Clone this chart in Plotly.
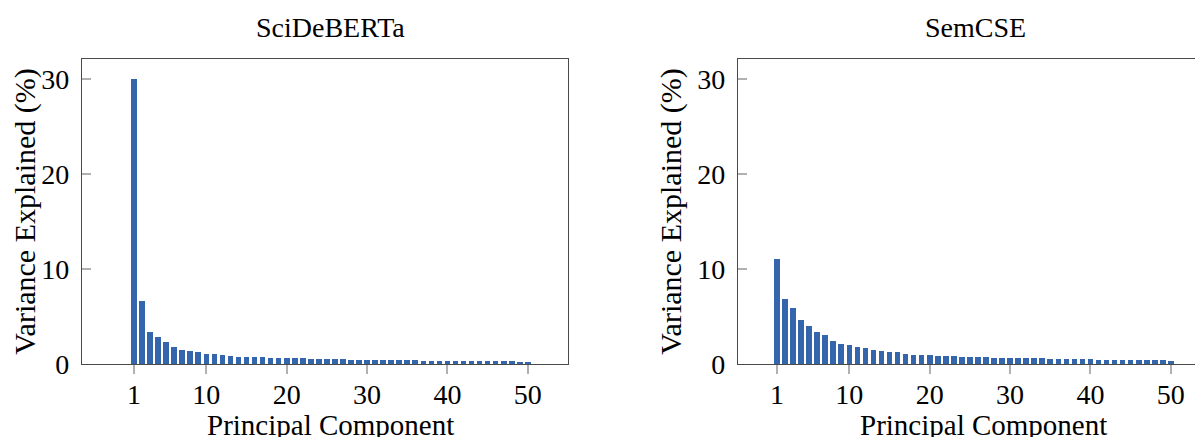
import plotly.graph_objects as go

components = list(range(1, 51))
scideberta = [30.0, 6.6, 3.4, 2.8, 2.35, 1.75, 1.5, 1.38, 1.3, 1.1,
              1.02, 0.95, 0.85, 0.78, 0.77, 0.75, 0.7, 0.68, 0.66, 0.63,
              0.6, 0.58, 0.56, 0.54, 0.52, 0.5, 0.48, 0.47, 0.45, 0.44,
              0.42, 0.41, 0.4, 0.39, 0.38, 0.37, 0.36, 0.35, 0.34, 0.33,
              0.32, 0.31, 0.3, 0.3, 0.29, 0.28, 0.27, 0.27, 0.26, 0.25]
semcse = [11.0, 6.85, 5.9, 4.67, 4.0, 3.4, 3.1, 2.45, 2.15, 2.0,
          1.82, 1.72, 1.5, 1.4, 1.3, 1.27, 1.07, 0.98, 0.95, 0.92,
          0.88, 0.84, 0.8, 0.77, 0.77, 0.74, 0.7, 0.67, 0.66, 0.63,
          0.62, 0.6, 0.6, 0.58, 0.56, 0.55, 0.53, 0.52, 0.5, 0.49,
          0.47, 0.46, 0.44, 0.43, 0.42, 0.41, 0.39, 0.38, 0.37, 0.36]
x_ticks = [1, 10, 20, 30, 40, 50]
y_ticks = [0, 10, 20, 30]
titles = ["SciDeBERTa", "SemCSE"]
x_title = "Principal Component"
y_title = "Variance Explained (%)"

FONT = "Liberation Serif"
BAR = "#3465ad"
LINE = "#4a4a4a"
TICK = "#b0b0b0"

fig = go.Figure()
fig.add_trace(go.Bar(x=components, y=scideberta, width=0.7,
                     marker=dict(color=BAR, line=dict(width=0)),
                     xaxis="x", yaxis="y", showlegend=False))
fig.add_trace(go.Bar(x=components, y=semcse, width=0.7,
                     marker=dict(color=BAR, line=dict(width=0)),
                     xaxis="x2", yaxis="y2", showlegend=False))

# page has an 8px body margin: figure sits at (8, 8)
OFF = 8
W, H = 1203 - OFF, 437 - OFF
ml, mt = 82 - OFF, 59 - OFF
mb = H - (364 - OFF)
mr = 0
pw = W - ml - mr
ph = H - mt - mb

def xax(domain, rng, anchor):
    return dict(domain=domain, range=rng, anchor=anchor,
                tickvals=x_ticks, ticktext=[str(v) for v in x_ticks],
                ticks="outside", ticklen=9, tickcolor=TICK, tickwidth=1.5,
                ticklabelstandoff=-4,
                showline=True, linecolor=LINE, linewidth=1.3, mirror=True,
                showgrid=False, zeroline=False,
                tickfont=dict(family=FONT, size=28, color="black"))

def yax(anchor, mirror):
    return dict(domain=[0, 1], range=[0, 32.1], anchor=anchor,
                tickvals=y_ticks, ticktext=[str(v) for v in y_ticks],
                ticks="inside", ticklen=9, tickcolor=TICK, tickwidth=1.5,
                ticklabelstandoff=6,
                showline=True, linecolor=LINE, linewidth=1.3, mirror=mirror,
                showgrid=False, zeroline=False,
                tickfont=dict(family=FONT, size=28, color="black"),
                title=dict(text=y_title, standoff=6,
                           font=dict(family=FONT, size=30, color="black")))

d1 = [0, (568 - 82) / pw]
d2 = [(738 - 82) / pw, 1]

def px_x(p):
    return (p - 82) / pw

def px_y(p):
    return (364 - p) / ph

def ann(text, x, y, size):
    return dict(text=text, x=px_x(x), y=px_y(y), xref="paper", yref="paper",
                xanchor="center", yanchor="middle", showarrow=False,
                font=dict(family=FONT, size=size, color="black"))

fig.update_layout(
    width=W, height=H,
    margin=dict(l=ml, r=mr, t=mt, b=mb, autoexpand=False),
    paper_bgcolor="white", plot_bgcolor="white",
    bargap=0,
    xaxis=xax(d1, [-5.47, 55.0], "y"),
    yaxis=yax("x", True),
    xaxis2=xax(d2, [-3.85, 54.0], "y2"),
    yaxis2=yax("x2", False),
    annotations=[
        ann(titles[0], 330, 28, 28),
        ann(titles[1], 975, 28, 28),
        ann(x_title, 330, 425, 29),
        ann(x_title, 983, 425, 29),
    ],
)

fig.write_html("out.html")
